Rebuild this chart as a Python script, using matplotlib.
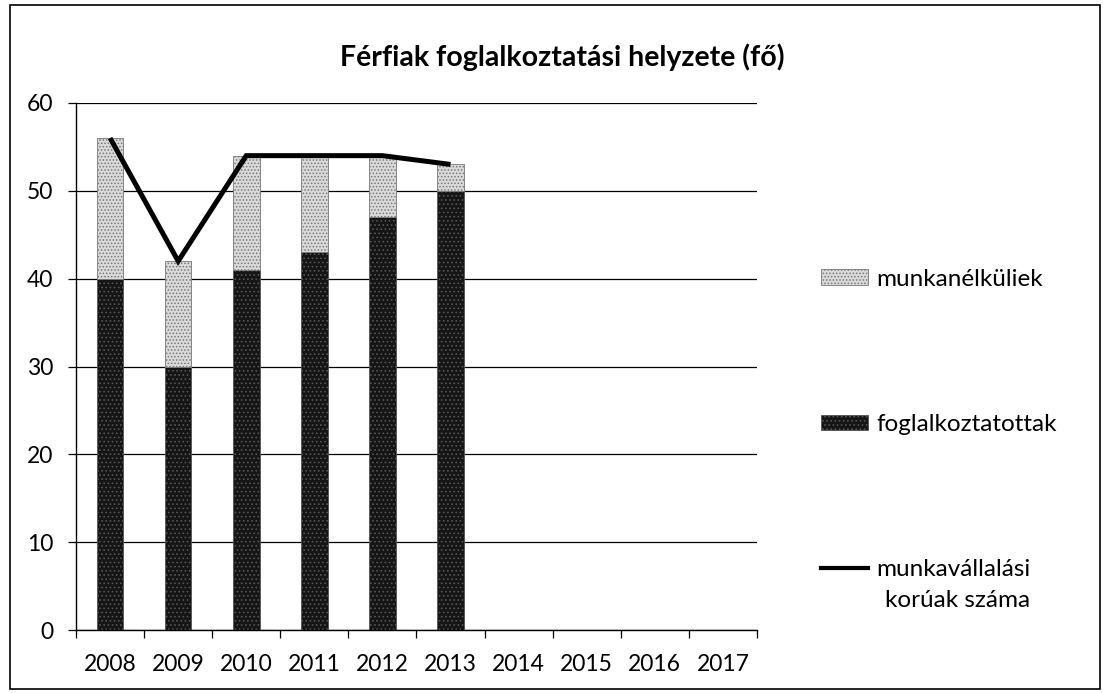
import matplotlib
matplotlib.use("Agg")
import matplotlib.pyplot as plt
import numpy as np
from matplotlib.patches import Rectangle, Patch
from matplotlib.lines import Line2D
from matplotlib.text import Annotation

# data
years = ["2008", "2009", "2010", "2011", "2012", "2013", "2014", "2015", "2016", "2017"]
employed = [40, 30, 41, 43, 47, 50]
unemployed = [16, 12, 13, 11, 7, 3]
working_age = [56, 42, 54, 54, 54, 53]

plt.rcParams['font.family'] = ['Lato', 'DejaVu Sans']
plt.rcParams['hatch.linewidth'] = 0.7

fig = plt.figure(figsize=(11.07, 6.93), dpi=100)
ax = fig.add_axes([0.0687, 0.0905, 0.615, 0.761])

x = np.arange(len(years))
n = len(employed)
w = 0.39

ax.set_axisbelow(True)
ax.yaxis.grid(True, color='black', linewidth=0.9)

plt.rcParams['hatch.color'] = '#6a6a6a'
ax.bar(x[:n], employed, width=w, color='#151515', edgecolor='#555555',
       hatch='....', linewidth=0.6, zorder=2)
plt.rcParams['hatch.color'] = '#7a7a7a'
ax.bar(x[:n], unemployed, width=w, bottom=employed, color='#dadada',
       edgecolor='#777777', hatch='.....', linewidth=0.6, zorder=2)
ax.plot(x[:n], working_age, color='black', linewidth=3.6, zorder=3,
        solid_capstyle='butt', solid_joinstyle='miter')

ax.set_xlim(-0.5, len(years) - 0.5)
ax.set_ylim(0, 60)
ax.set_yticks(range(0, 61, 10))
ax.set_xticks(x)
ax.set_xticklabels(years)
ax.set_xticks(np.arange(-0.5, len(years)), minor=True)
ax.tick_params(axis='x', which='major', length=0, pad=17, labelsize=16.5)
ax.tick_params(axis='x', which='minor', length=6, width=0.9, direction='out')
ax.tick_params(axis='y', length=5.5, width=0.9, direction='out', pad=11, labelsize=16.5)

for s in ['top', 'right']:
    ax.spines[s].set_visible(False)
ax.spines['left'].set_linewidth(1.0)
ax.spines['bottom'].set_linewidth(1.0)

fig.text(0.508, 0.918, "Férfiak foglalkoztatási helyzete (fő)", ha='center',
         va='center', fontsize=20.5, fontweight='bold')

handles = [
    Patch(facecolor='#dadada', edgecolor='#777777', hatch='.....', linewidth=0.6),
    Patch(facecolor='#151515', edgecolor='#555555', hatch='....', linewidth=0.6),
    Line2D([], [], color='black', linewidth=3),
]
labels = ["munkanélküliek", "foglalkoztatottak", "munkavállalási"]
leg = fig.legend(handles, labels, loc='upper left', bbox_to_anchor=(0.7215, 0.644),
                 frameon=False, fontsize=17.5, labelspacing=5.12, handlelength=1.95,
                 handleheight=0.6, handletextpad=0.33)

# second line of the last legend label, hung under the first line
second = Annotation("korúak száma", xy=(0, 0), xycoords=leg.get_texts()[2],
                    xytext=(9, -10), textcoords='offset pixels', ha='left', va='top',
                    fontsize=17.5, zorder=10)
fig.add_artist(second)

fig.patches.append(Rectangle((0.009, 0.006), 0.985, 0.987, transform=fig.transFigure,
                             fill=False, edgecolor='black', linewidth=1.2))

fig.savefig("out.png", dpi=100)
